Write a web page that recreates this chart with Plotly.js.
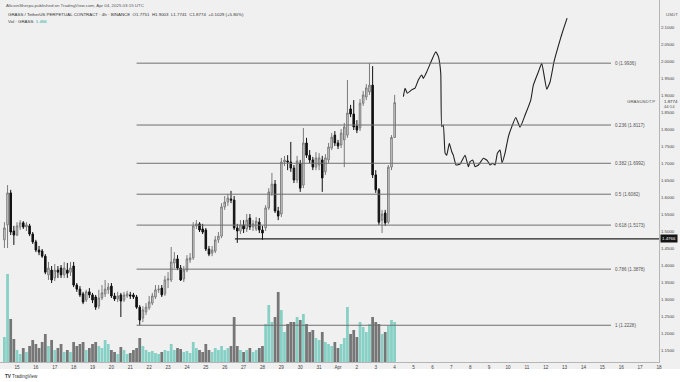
<!DOCTYPE html>
<html><head><meta charset="utf-8">
<script src="https://cdn.plot.ly/plotly-3.0.1.min.js"></script>
<style>html,body{margin:0;padding:0;background:#fff}#chart{width:680px;height:382px}</style>
</head><body><div id="chart"></div>
<script>
// 4h candles, first bar 2025-03-14 08:00 UTC
const firstBarUTC = Date.UTC(2025, 2, 14, 8);
const barHours = 4;

const openP = [1.474,1.518,1.612,1.500,1.488,1.512,1.524,1.512,1.515,1.491,
1.468,1.444,1.441,1.426,1.371,1.385,1.362,1.385,1.391,1.371,
1.385,1.379,1.397,1.341,1.329,1.315,1.297,1.321,1.312,1.306,
1.279,1.303,1.315,1.327,1.338,1.309,1.300,1.312,1.297,1.309,
1.312,1.312,1.306,1.276,1.244,1.262,1.274,1.288,1.306,1.327,
1.332,1.315,1.356,1.356,1.406,1.418,1.391,1.359,1.385,1.415,
1.421,1.515,1.521,1.506,1.503,1.447,1.435,1.441,1.474,1.485,
1.571,1.585,1.594,1.591,1.509,1.500,1.518,1.506,1.538,1.512,
1.506,1.526,1.503,1.509,1.568,1.612,1.638,1.559,1.550,1.703,
1.706,1.703,1.685,1.650,1.700,1.635,1.759,1.723,1.709,1.688,
1.694,1.709,1.674,1.709,1.744,1.782,1.759,1.753,1.768,1.782,
1.859,1.844,1.809,1.803,1.876,1.894,1.909,1.929,1.665,1.621,
1.532,1.553,1.526,1.688,1.7751];
const highP = [1.526,1.635,1.621,1.515,1.526,1.532,1.529,1.526,1.521,1.497,
1.474,1.456,1.447,1.432,1.409,1.397,1.403,1.397,1.400,1.409,
1.406,1.409,1.409,1.347,1.338,1.321,1.327,1.332,1.318,1.312,
1.327,1.341,1.356,1.347,1.347,1.318,1.321,1.318,1.321,1.324,
1.321,1.318,1.312,1.282,1.279,1.288,1.309,1.318,1.341,1.341,
1.341,1.368,1.379,1.453,1.438,1.429,1.400,1.397,1.429,1.435,
1.526,1.532,1.526,1.521,1.509,1.456,1.456,1.485,1.497,1.582,
1.603,1.609,1.618,1.603,1.521,1.532,1.532,1.550,1.550,1.532,
1.541,1.538,1.515,1.576,1.626,1.671,1.650,1.571,1.715,1.721,
1.723,1.762,1.694,1.721,1.709,1.803,1.774,1.738,1.718,1.732,
1.729,1.721,1.726,1.759,1.788,1.794,1.768,1.800,1.818,1.944,
1.871,1.885,1.826,1.888,1.912,1.932,1.9936,1.985,1.679,1.626,
1.562,1.562,1.694,1.782,1.9003];
const lowP = [1.450,1.450,1.488,1.459,1.485,1.503,1.506,1.500,1.485,1.462,
1.438,1.429,1.421,1.373,1.356,1.347,1.353,1.362,1.362,1.362,
1.362,1.368,1.335,1.321,1.306,1.285,1.291,1.303,1.288,1.268,
1.271,1.297,1.306,1.315,1.303,1.294,1.291,1.247,1.291,1.303,
1.300,1.300,1.271,1.2228,1.232,1.253,1.268,1.282,1.300,1.318,
1.306,1.309,1.332,1.350,1.391,1.385,1.353,1.350,1.379,1.406,
1.415,1.506,1.497,1.491,1.441,1.426,1.426,1.435,1.465,1.479,
1.562,1.574,1.582,1.503,1.465,1.491,1.494,1.497,1.503,1.500,
1.500,1.494,1.474,1.500,1.562,1.603,1.553,1.532,1.541,1.691,
1.679,1.674,1.641,1.641,1.615,1.626,1.715,1.700,1.679,1.679,
1.679,1.615,1.665,1.700,1.738,1.750,1.741,1.744,1.688,1.774,
1.835,1.797,1.788,1.794,1.868,1.885,1.900,1.656,1.612,1.518,
1.494,1.515,1.521,1.679,1.7741];
const closeP = [1.509,1.612,1.497,1.488,1.515,1.524,1.512,1.518,1.491,1.468,
1.444,1.438,1.426,1.379,1.391,1.356,1.385,1.379,1.371,1.391,
1.376,1.391,1.341,1.329,1.312,1.291,1.321,1.312,1.297,1.276,
1.303,1.318,1.329,1.335,1.309,1.300,1.309,1.294,1.312,1.315,
1.309,1.306,1.276,1.238,1.268,1.276,1.291,1.309,1.327,1.329,
1.312,1.356,1.359,1.409,1.418,1.391,1.356,1.385,1.418,1.421,
1.515,1.521,1.503,1.497,1.447,1.432,1.444,1.474,1.485,1.571,
1.585,1.597,1.591,1.509,1.500,1.518,1.506,1.532,1.512,1.521,
1.529,1.503,1.494,1.568,1.615,1.638,1.559,1.544,1.703,1.709,
1.703,1.685,1.650,1.706,1.626,1.759,1.723,1.709,1.688,1.715,
1.715,1.656,1.715,1.747,1.776,1.759,1.750,1.788,1.806,1.847,
1.844,1.806,1.797,1.876,1.900,1.921,1.929,1.665,1.621,1.526,
1.550,1.524,1.688,1.775,1.8774];
// volume (thousands)
const volume = [250,880,430,230,120,80,140,100,160,220,
180,140,200,280,160,220,120,140,180,100,
120,100,200,160,180,200,120,140,180,200,
160,140,220,180,120,100,80,150,120,80,
90,120,140,240,160,120,100,110,90,80,
100,120,110,180,120,140,130,100,110,90,
200,140,120,100,180,120,100,140,120,160,
120,140,160,450,160,120,100,120,140,100,
120,140,160,380,570,400,450,700,520,300,
380,400,400,450,420,480,380,300,320,240,
220,300,200,180,160,200,140,180,240,550,
280,320,250,400,350,300,380,450,400,380,
280,300,360,420,400];

// Fibonacci retracement
const fibRatio = ["0","0.236","0.382","0.5","0.618","0.786","1"];
const fibPrice = [1.9936,1.8117,1.6992,1.6082,1.5173,1.3878,1.2228];
const fibStart = "2025-03-21 08:00", fibEnd = "2025-04-15 11:00", fibLabelAt = "2025-04-15 13:30";
const supportPrice = 1.4766, supportStart = "2025-03-26 13:00";

// hand-drawn projection path
const pathTime = ["2025-04-04 11:06","2025-04-04 13:12","2025-04-04 16:06","2025-04-04 21:42","2025-04-05 01:54","2025-04-05 06:06","2025-04-05 10:30","2025-04-05 12:30","2025-04-05 16:48","2025-04-05 23:12","2025-04-06 04:18","2025-04-06 07:36","2025-04-06 10:36","2025-04-06 11:54","2025-04-06 13:54","2025-04-06 16:06","2025-04-06 18:12","2025-04-06 21:30","2025-04-07 00:36","2025-04-07 02:36","2025-04-07 06:06","2025-04-07 11:06","2025-04-07 17:30","2025-04-07 21:42","2025-04-07 23:54","2025-04-08 03:18","2025-04-08 06:12","2025-04-08 10:24","2025-04-08 16:48","2025-04-08 21:48","2025-04-09 01:18","2025-04-09 04:42","2025-04-09 07:36","2025-04-09 10:36","2025-04-09 14:00","2025-04-09 16:30","2025-04-09 20:18","2025-04-10 00:30","2025-04-10 04:54","2025-04-10 10:00","2025-04-10 15:24","2025-04-10 21:48","2025-04-11 05:00","2025-04-11 08:18","2025-04-11 14:42","2025-04-11 19:00","2025-04-12 01:18","2025-04-12 05:36","2025-04-12 10:36","2025-04-12 18:18","2025-04-12 22:06","2025-04-13 03:12"];
const pathPrice = [1.895,1.920,1.905,1.915,1.920,1.944,1.959,1.949,1.968,2.003,2.027,2.013,1.964,1.807,1.812,1.729,1.723,1.758,1.733,1.723,1.694,1.697,1.723,1.689,1.704,1.709,1.689,1.694,1.714,1.707,1.694,1.699,1.694,1.729,1.738,1.701,1.729,1.777,1.807,1.834,1.805,1.841,1.885,1.929,1.968,1.993,1.917,1.939,1.998,2.062,2.091,2.126];

const tickDates = ["2025-03-15","2025-03-16","2025-03-17","2025-03-18","2025-03-19","2025-03-20","2025-03-21","2025-03-22","2025-03-23","2025-03-24","2025-03-25","2025-03-26","2025-03-27","2025-03-28","2025-03-29","2025-03-30","2025-03-31","2025-04-01","2025-04-02","2025-04-03","2025-04-04","2025-04-05","2025-04-06","2025-04-07","2025-04-08","2025-04-09","2025-04-10","2025-04-11","2025-04-12","2025-04-13","2025-04-14","2025-04-15","2025-04-16","2025-04-17","2025-04-18"];
const tickLabels = ["15","16","17","18","19","20","21","22","23","24","25","26","27","28","29","30","31","Apr","2","3","4","5","6","7","8","9","10","11","12","13","14","15","16","17","18"];
const priceTicks = [1.15,1.20,1.25,1.30,1.35,1.40,1.45,1.50,1.55,1.60,1.65,1.70,1.75,1.80,1.85,1.90,1.95,2.00,2.05,2.10];
const priceTickText = ["1.1500","1.2000","1.2500","1.3000","1.3500","1.4000","1.4500","1.5000","1.5500","1.6000","1.6500","1.7000","1.7500","1.8000","1.8500","1.9000","1.9500","2.0000","2.0500","2.1000"];

const times = openP.map((_, i) => new Date(firstBarUTC + i * barHours * 3600e3).toISOString().slice(0, 16).replace('T', ' '));
const volColors = closeP.map((c, i) => c >= openP[i] ? '#86d0c5' : '#767676');

const F = 'Liberation Sans, Arial, sans-serif';
const PH = 362, PW = 659;
const py = px => (PH - px) / PH;
const pxx = px => px / PW;

const traces = [
  {type:'bar', x:times, y:volume, marker:{color:volColors, line:{width:0}}, xaxis:'x', yaxis:'y', hoverinfo:'skip'},
  {type:'candlestick', x:times, open:openP, high:highP, low:lowP, close:closeP, xaxis:'x', yaxis:'y2',
   increasing:{line:{color:'#7a7a7a', width:1}, fillcolor:'#e2e2e2'},
   decreasing:{line:{color:'#111111', width:1}, fillcolor:'#111111'},
   whiskerwidth:0, hoverinfo:'skip'},
  {type:'scatter', mode:'lines', x:pathTime, y:pathPrice, xaxis:'x', yaxis:'y2',
   line:{color:'#222', width:1.1, shape:'spline', smoothing:0.4}, hoverinfo:'skip'}
];

const shapes = [
  {type:'rect', xref:'paper', yref:'paper', x0:-0.01, x1:1.05, y0:py(382), y1:py(369), fillcolor:'#ffffff', line:{width:0}, layer:'below'}
];
fibPrice.forEach(p => shapes.push({type:'line', xref:'x', yref:'y2', x0:fibStart, x1:fibEnd, y0:p, y1:p, line:{color:'#6f6f6f', width:1}}));
shapes.push({type:'line', xref:'x', yref:'y2', x0:supportStart, x1:'2025-04-18 00:00', y0:supportPrice, y1:supportPrice, line:{color:'#222', width:1.3}});

const ann = [];
fibPrice.forEach((p, i) => ann.push({xref:'x', yref:'y2', x:fibLabelAt, y:p, text:fibRatio[i] + ' (' + p.toFixed(4) + ')', showarrow:false, xanchor:'left', yanchor:'middle', font:{family:F, size:4.6, color:'#555'}}));
ann.push({xref:'paper', yref:'paper', x:pxx(4), y:py(6), text:'AltcoinSherpa published on TradingView.com, Apr 04, 2025 03:15 UTC', showarrow:false, xanchor:'left', yanchor:'middle', font:{family:F, size:4.4, color:'#555'}});
ann.push({xref:'paper', yref:'paper', x:pxx(6), y:py(14), text:'GRASS / TetherUS PERPETUAL CONTRACT · 4h · BINANCE  O1.7751  H1.9003  L1.7741  C1.8774  +0.1029 (+5.80%)', showarrow:false, xanchor:'left', yanchor:'middle', font:{family:F, size:4.4, color:'#333'}});
ann.push({xref:'paper', yref:'paper', x:pxx(6), y:py(21), text:'Vol · GRASS  <span style="color:#26a69a">1.466</span>', showarrow:false, xanchor:'left', yanchor:'middle', font:{family:F, size:4.4, color:'#333'}});
ann.push({xref:'paper', yref:'paper', x:pxx(664), y:py(14), text:'USDT', showarrow:false, xanchor:'left', yanchor:'middle', font:{family:F, size:4.4, color:'#555'}});
ann.push({xref:'paper', yref:'paper', x:pxx(657), y:py(101), text:'GRASUSDT.P', showarrow:false, xanchor:'right', yanchor:'middle', font:{family:F, size:4.4, color:'#555'}});
ann.push({xref:'paper', yref:'paper', x:pxx(662), y:py(101), text:'1.8774', showarrow:false, xanchor:'left', yanchor:'middle', font:{family:F, size:4.4, color:'#333'}});
ann.push({xref:'paper', yref:'paper', x:pxx(662), y:py(106.5), text:'44:14', showarrow:false, xanchor:'left', yanchor:'middle', font:{family:F, size:4.2, color:'#555'}});
ann.push({xref:'paper', yref:'y2', x:1.001, y:supportPrice, text:'1.4766', showarrow:false, xanchor:'left', yanchor:'middle', bgcolor:'#151515', borderpad:1, font:{family:F, size:4.4, color:'#ffffff'}});
ann.push({xref:'paper', yref:'paper', x:pxx(3), y:py(376), text:'<b>TV</b> TradingView', showarrow:false, xanchor:'left', yanchor:'middle', font:{family:F, size:4.6, color:'#333'}});

const layout = {
  width:680, height:382,
  margin:{l:0, r:21, t:0, b:20, pad:0},
  paper_bgcolor:'#f0f0f0', plot_bgcolor:'#f0f0f0',
  showlegend:false, bargap:0.12,
  font:{family:F, size:4.6, color:'#444'},
  xaxis:{type:'date', range:['2025-03-14 02:24','2025-04-18 00:00'], tickmode:'array', tickvals:tickDates, ticktext:tickLabels,
         showgrid:false, zeroline:false, showline:true, linecolor:'#b5b5b5', linewidth:1, ticks:'',
         tickfont:{family:F, size:4.6, color:'#444'}, rangeslider:{visible:false}, fixedrange:true},
  yaxis:{range:[0,3620], visible:false, fixedrange:true},
  yaxis2:{overlaying:'y', side:'right', range:[1.1147,2.1794], tickmode:'array', tickvals:priceTicks, ticktext:priceTickText,
          showgrid:false, zeroline:false, showline:true, linecolor:'#b5b5b5', linewidth:1, ticks:'',
          tickfont:{family:F, size:4.4, color:'#444'}, fixedrange:true},
  shapes:shapes, annotations:ann
};

Plotly.newPlot('chart', traces, layout, {displayModeBar:false, staticPlot:true});
</script>
</body></html>
